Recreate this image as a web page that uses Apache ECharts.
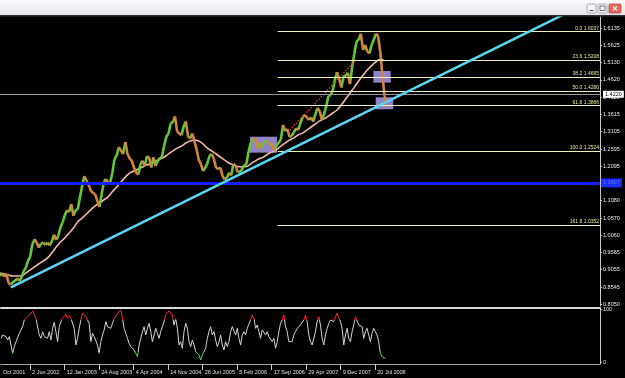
<!DOCTYPE html>
<html><head><meta charset="utf-8">
<script src="https://cdn.jsdelivr.net/npm/echarts@6/dist/echarts.min.js"></script>
<style>html,body{margin:0;padding:0;background:#000;overflow:hidden}#c{width:625px;height:378px}</style>
</head><body><div id="c"></div>
<script>
// ---- data ----
const weekTicks = [0, 27, 59, 91, 123, 155, 187, 219, 251, 283, 315, 347];
const weekLabels = ['Oct 2001','2 Jun 2002','12 Jan 2003','24 Aug 2003','4 Apr 2004','14 Nov 2004','26 Jun 2005','5 Feb 2006','17 Sep 2006','29 Apr 2007','9 Dec 2007','20 Jul 2008'];
const priceTicks = [1.6135,1.5625,1.5130,1.4620,1.4110,1.3615,1.3105,1.2595,1.2095,1.1590,1.1080,1.0570,1.0060,0.9565,0.9055,0.8545,0.8050];
const oscTicks = [0, 100];
// bi-weekly closes (week index = 2*i, week 0 = 25 Nov 2001)
const closes = [
0.887,0.895,0.885,0.893,0.866,0.862,0.870,0.873,0.880,0.873,
0.883,0.902,0.912,0.932,0.944,0.980,0.995,0.985,0.970,0.982,
0.985,0.978,0.985,0.977,0.988,1.008,0.993,1.005,1.030,1.045,
1.065,1.080,1.075,1.098,1.064,1.080,1.083,1.118,1.150,1.180,
1.168,1.155,1.138,1.130,1.128,1.108,1.090,1.125,1.160,1.172,
1.162,1.160,1.190,1.230,1.240,1.265,1.255,1.245,1.280,1.245,
1.232,1.225,1.205,1.190,1.185,1.215,1.225,1.210,1.238,1.235,
1.205,1.235,1.210,1.225,1.232,1.238,1.270,1.295,1.305,1.335,
1.338,1.355,1.310,1.305,1.300,1.325,1.340,1.297,1.290,1.305,
1.282,1.258,1.228,1.215,1.195,1.205,1.218,1.240,1.245,1.230,
1.205,1.200,1.205,1.180,1.170,1.175,1.190,1.182,1.215,1.212,
1.192,1.192,1.200,1.212,1.215,1.250,1.278,1.285,1.293,1.262,
1.278,1.262,1.278,1.282,1.282,1.270,1.275,1.255,1.270,1.278,
1.288,1.330,1.312,1.318,1.295,1.298,1.308,1.320,1.315,1.335,
1.352,1.360,1.352,1.345,1.352,1.340,1.362,1.380,1.370,1.345,
1.362,1.385,1.415,1.418,1.430,1.462,1.485,1.465,1.440,1.472,
1.475,1.483,1.450,1.500,1.540,1.575,1.580,1.598,1.550,1.565,
1.545,1.540,1.565,1.580,1.598,1.590,1.545,1.475,1.415,1.383];
// moving average every 4 weeks
const maValues = [
0.896,0.893,0.890,0.887,0.887,0.888,0.896,0.905,0.914,0.923,
0.931,0.940,0.955,0.972,0.987,0.999,1.013,1.028,1.046,1.057,
1.069,1.081,1.093,1.101,1.110,1.119,1.134,1.148,1.163,1.177,
1.189,1.195,1.201,1.207,1.213,1.216,1.224,1.230,1.236,1.245,
1.254,1.262,1.268,1.277,1.283,1.286,1.283,1.274,1.262,1.254,
1.245,1.236,1.227,1.218,1.213,1.208,1.207,1.208,1.216,1.224,
1.231,1.236,1.245,1.251,1.258,1.268,1.277,1.286,1.292,1.301,
1.306,1.315,1.324,1.333,1.342,1.348,1.356,1.365,1.374,1.389,
1.406,1.424,1.441,1.459,1.476,1.491,1.504,1.515,1.522,1.518];
// oscillator, one reading every 1.5428 weeks
const oscStepWeeks = 1.5428;
const osc = [
45.6,51.9,50.7,48.8,42.5,48.8,33.0,17.3,29.9,39.3,36.2,55.1,51.9,67.6,80.2,83.4,86.5,88.4,92.8,97.2,
99.0,83.4,84.6,51.9,45.6,58.2,48.8,51.9,45.6,58.2,42.5,64.5,75.8,58.2,39.3,67.6,77.1,83.4,86.5,90.9,
83.4,88.4,83.4,80.2,64.5,33.0,45.6,64.5,80.2,92.8,95.9,86.5,80.2,73.9,39.3,55.1,48.8,51.9,33.0,17.3,
39.3,51.9,61.4,77.1,67.6,70.8,64.5,73.9,83.4,86.5,92.8,95.9,99.0,83.4,64.5,55.1,45.6,36.2,29.9,26.8,
23.6,17.3,11.0,33.0,45.6,58.2,67.6,51.9,64.5,73.9,58.2,39.3,51.9,64.5,55.1,45.6,58.2,67.6,77.1,89.6,
92.8,97.2,99.0,89.6,70.8,83.4,64.5,33.0,39.3,26.8,58.2,73.9,64.5,39.3,29.9,42.5,33.0,20.5,23.6,14.2,
4.7,14.2,17.3,26.8,45.6,58.2,67.6,51.9,58.2,42.5,29.9,39.3,51.9,33.0,23.6,39.3,29.9,39.3,58.2,67.6,
64.5,51.9,64.5,45.6,33.0,51.9,58.2,51.9,64.5,67.6,80.2,89.6,83.4,64.5,70.8,58.2,45.6,61.4,64.5,51.9,
58.2,48.8,51.9,39.3,45.6,26.8,39.3,58.2,73.9,80.2,89.6,67.6,58.2,39.3,36.2,39.3,51.9,58.2,64.5,67.6,
70.8,75.8,80.2,89.6,77.1,51.9,39.3,33.0,29.9,58.2,77.1,86.5,70.8,45.6,33.0,51.9,64.5,73.9,80.2,83.4,
77.1,86.5,92.8,95.9,77.1,64.5,33.0,51.9,64.5,45.6,39.3,58.2,70.8,86.5,89.6,70.8,73.9,67.6,45.6,58.2,
64.5,51.9,39.3,55.1,64.5,58.2,51.9,39.3,17.3,11.0,14.2,7.9];
const fibLevels = [0.0, 23.6, 38.2, 50.0, 61.8, 100.0, 161.8];
const fibPrices = [1.6037, 1.5208, 1.4695, 1.4280, 1.3866, 1.2524, 1.0352];
const fibStartWeek = 257;
const bidPrice = 1.4220;
const supportPrice = 1.1607;
const trendWeeks = [10, 545];
const trendPrices = [0.854, 1.6902];
const channelWeeks = [268.4, 329.5];
const channelPrices = [1.315, 1.5205];
const boxWeeks = [[231.4, 256.4], [345.6, 361.7], [347.8, 364.0]];
const boxPrices = [[1.2956, 1.2487], [1.4883, 1.4540], [1.4112, 1.3760]];

// ---- build ----
const W_MAX = 555.4;
const FONT = 'Liberation Sans';
const upData = [], downData = [];
for (let i = 1; i < closes.length; i++) {
  const seg = closes[i] >= closes[i-1] ? upData : downData;
  seg.push([2*(i-1), closes[i-1]], [2*i, closes[i]], [2*i, '-']);
}
const maData = maValues.map((v, j) => [4*j, v]);
const oscData = osc.map((v, i) => [i*oscStepWeeks, v]);
const fibLines = fibLevels.map((lv, i) => [
  {coord: [fibStartWeek, fibPrices[i]], label: {formatter: lv.toFixed(1) + ' ' + fibPrices[i].toFixed(4)}},
  {coord: [W_MAX, fibPrices[i]]}
]);
const boxAreas = boxWeeks.map((w, i) => [{coord: [w[0], boxPrices[i][0]]}, {coord: [w[1], boxPrices[i][1]]}]);

const chart = echarts.init(document.getElementById('c'), null, {renderer: 'canvas', width: 625, height: 378});
chart.setOption({
  backgroundColor: '#000',
  animation: false,
  grid: [
    {left: 0, top: 17, width: 600, height: 289},
    {left: 0, top: 308, width: 600, height: 56}
  ],
  xAxis: [
    {gridIndex: 0, type: 'value', min: 0, max: W_MAX, show: false},
    {gridIndex: 1, type: 'value', min: 0, max: W_MAX, position: 'bottom',
      axisLine: {show: true, onZero: false, lineStyle: {color: '#a8a8a8', width: 1}},
      axisTick: {show: true, customValues: weekTicks.slice(1), length: 6, lineStyle: {color: '#cfcfcf'}},
      axisLabel: {customValues: weekTicks, align: 'left', padding: [0, 0, 0, 2], margin: 5,
        fontSize: 5.5, color: '#e0e0e0', fontFamily: FONT,
        formatter: v => { const i = weekTicks.findIndex(t => Math.abs(t - v) < 0.01); return i >= 0 ? weekLabels[i] : ''; }},
      splitLine: {show: false}},
    {gridIndex: 1, type: 'value', min: 0, max: W_MAX, position: 'top',
      axisLine: {show: true, onZero: false, lineStyle: {color: '#dcdcdc', width: 2}},
      axisTick: {show: false}, axisLabel: {show: false}, splitLine: {show: false}}
  ],
  yAxis: [
    {gridIndex: 0, type: 'value', position: 'right', min: 0.7991, max: 1.6466,
      axisLine: {show: true, onZero: false, lineStyle: {color: '#c8c8c8'}},
      axisTick: {show: true, customValues: priceTicks, length: 2, lineStyle: {color: '#c8c8c8'}},
      axisLabel: {customValues: priceTicks, margin: 3, fontSize: 5.5, color: '#ececec', fontFamily: FONT,
        formatter: v => v.toFixed(4)},
      splitLine: {show: false}},
    {gridIndex: 1, type: 'value', position: 'right', min: -2.83, max: 102.83,
      axisLine: {show: true, onZero: false, lineStyle: {color: '#c8c8c8'}},
      axisTick: {show: true, customValues: oscTicks, length: 2, lineStyle: {color: '#c8c8c8'}},
      axisLabel: {customValues: oscTicks, margin: 3, fontSize: 5.5, color: '#ececec', fontFamily: FONT,
        formatter: v => String(Math.round(v))},
      splitLine: {show: false}}
  ],
  visualMap: [{
    type: 'piecewise', show: false, seriesIndex: 6, dimension: 1,
    pieces: [{lt: 20, color: '#55dd4a'}, {gte: 20, lte: 80, color: '#d4d4d4'}, {gt: 80, color: '#ff3030'}]
  }],
  series: [
    {type: 'line', xAxisIndex: 0, yAxisIndex: 0, data: [], z: 1, silent: true,
      markArea: {silent: true, itemStyle: {color: 'rgba(178,160,245,0.82)'}, data: boxAreas}},
    {type: 'line', xAxisIndex: 0, yAxisIndex: 0, data: maData, smooth: true, showSymbol: false, z: 2,
      lineStyle: {color: '#f4b9aa', width: 1.6}},
    {type: 'line', xAxisIndex: 0, yAxisIndex: 0, data: upData, showSymbol: false, connectNulls: false, z: 3,
      lineStyle: {color: '#62c83a', width: 2.6}},
    {type: 'line', xAxisIndex: 0, yAxisIndex: 0, data: downData, showSymbol: false, connectNulls: false, z: 4,
      lineStyle: {color: '#d4843f', width: 2.6}},
    {type: 'line', xAxisIndex: 0, yAxisIndex: 0, data: channelWeeks.map((w, i) => [w, channelPrices[i]]),
      showSymbol: false, z: 4, lineStyle: {color: '#d83a3a', width: 1.5, type: 'dotted'}},
    {type: 'line', xAxisIndex: 0, yAxisIndex: 0, data: trendWeeks.map((w, i) => [w, trendPrices[i]]),
      showSymbol: false, z: 5, lineStyle: {color: '#5bd6f6', width: 2.5},
      markLine: {silent: true, symbol: 'none', animation: false,
        data: [
          {yAxis: bidPrice, lineStyle: {color: '#9a9a9a', width: 1, type: 'solid'},
            label: {show: true, position: 'end', distance: 3, formatter: bidPrice.toFixed(4), backgroundColor: '#ffffff',
              color: '#000', fontSize: 5.5, fontFamily: FONT, padding: [1, 2, 0, 2]}},
          {yAxis: supportPrice, lineStyle: {color: '#1420ff', width: 3, type: 'solid'},
            label: {show: true, position: 'end', distance: 1, formatter: supportPrice.toFixed(4), backgroundColor: '#1a30ff',
              color: '#5a78ff', fontSize: 5.5, fontFamily: FONT, padding: [2, 2, 1, 2]}},
          ...fibLines
        ],
        lineStyle: {color: '#f0f0b4', width: 1, type: 'solid'},
        label: {show: true, position: 'insideEndTop', distance: 1, color: '#e8e89c', fontSize: 5, fontFamily: FONT}
      }},
    {type: 'line', xAxisIndex: 1, yAxisIndex: 1, data: oscData, showSymbol: false, z: 3,
      lineStyle: {width: 1}}
  ],
  graphic: [
    {type: 'rect', z: 100, shape: {x: 0, y: 0, width: 625, height: 16},
      style: {fill: new echarts.graphic.LinearGradient(0, 0, 0, 1, [{offset: 0, color: '#fbfbfd'}, {offset: 1, color: '#e3e3ea'}])}},
    {type: 'rect', z: 100, shape: {x: 0, y: 15, width: 625, height: 1.5}, style: {fill: '#2c2c34'}},
    {type: 'rect', z: 101, shape: {x: 587, y: 4, width: 9, height: 9, r: 1}, style: {fill: '#f4f4f4', stroke: '#9a9aa4', lineWidth: 0.8}},
    {type: 'rect', z: 102, shape: {x: 589.5, y: 10, width: 4, height: 1}, style: {fill: '#444'}},
    {type: 'rect', z: 101, shape: {x: 598, y: 4, width: 9, height: 9, r: 1}, style: {fill: '#f4f4f4', stroke: '#9a9aa4', lineWidth: 0.8}},
    {type: 'rect', z: 102, shape: {x: 600, y: 6, width: 5, height: 4.5}, style: {fill: 'none', stroke: '#555', lineWidth: 0.8}},
    {type: 'rect', z: 101, shape: {x: 609, y: 4, width: 12, height: 9, r: 1}, style: {fill: '#e46a5c', stroke: '#b04a40', lineWidth: 0.8}},
    {type: 'text', z: 102, x: 615, y: 8.7, style: {text: '✕', fill: '#fff', font: 'bold 7px ' + FONT, align: 'center', verticalAlign: 'middle'}}
  ]
});
</script>
</body></html>
